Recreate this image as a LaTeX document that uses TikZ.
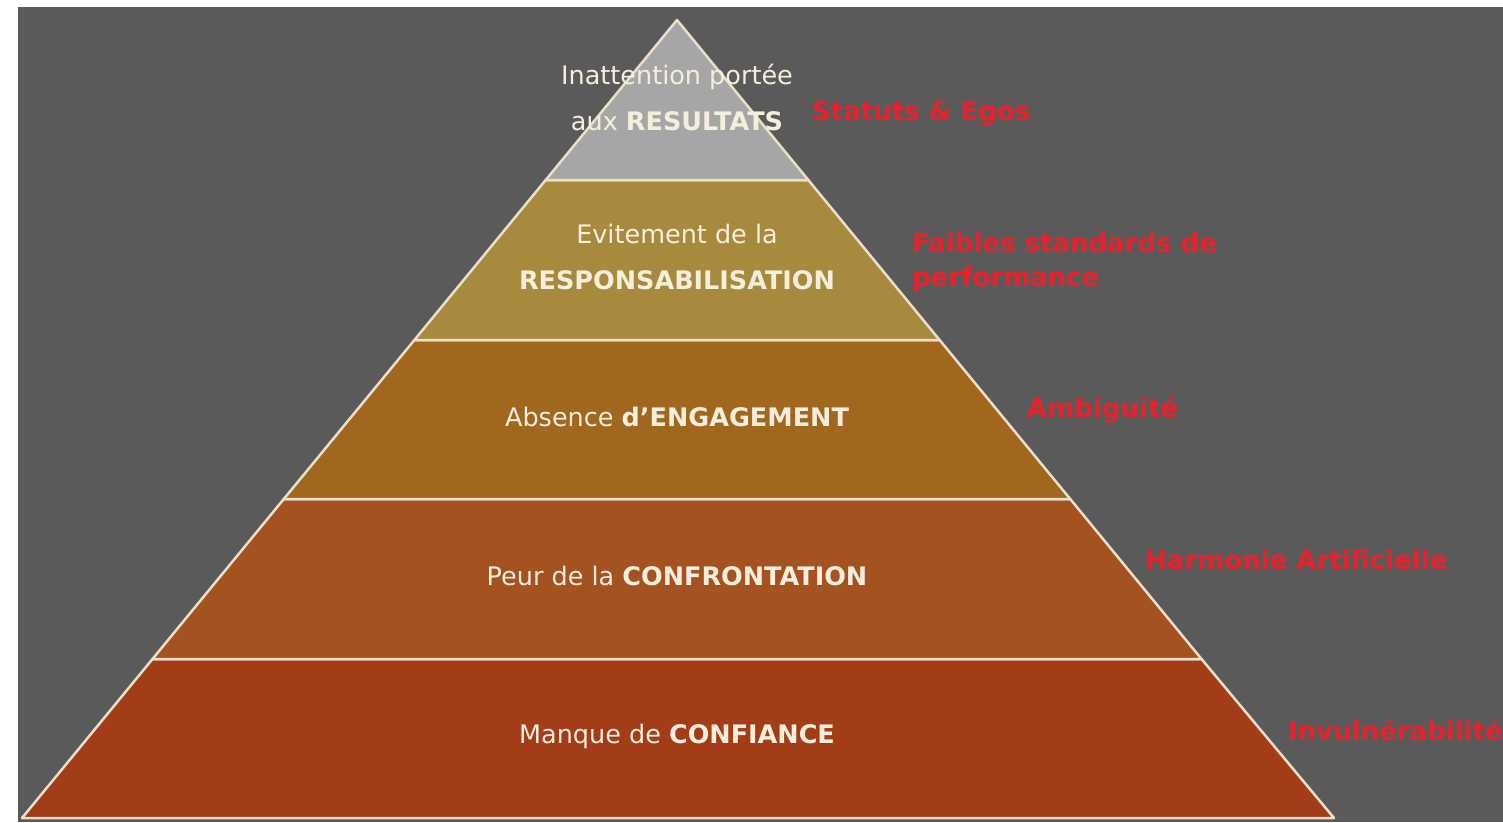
\documentclass[tikz,border=0pt]{standalone}
\usepackage{fontspec}
\setmainfont{DejaVu Sans}
\definecolor{bg}{HTML}{5A5A5A}
\definecolor{lay1}{HTML}{A6A6A6}
\definecolor{lay2}{HTML}{A88A3F}
\definecolor{lay3}{HTML}{A1671F}
\definecolor{lay4}{HTML}{A4521F}
\definecolor{lay5}{HTML}{A33D18}
\definecolor{sep}{HTML}{EADFC8}
\definecolor{txt}{HTML}{F6EEDD}
\definecolor{lbl}{HTML}{E8222C}
\tikzset{
  layer/.style={draw=sep, line width=2.5pt, line join=round},
  lvltext/.style={text=txt, align=center, font=\fontsize{25.5}{46}\selectfont, inner sep=0pt},
  redlbl/.style={text=lbl, anchor=west, align=left, font=\bfseries\fontsize{26}{34}\selectfont, inner sep=0pt}
}
\begin{document}
\begin{tikzpicture}[x=1pt,y=-1pt]
\useasboundingbox (0,0) rectangle (1503,822);
\fill[white] (0,0) rectangle (1503,822);
\fill[bg] (18,7) rectangle (1503,822);
% pyramid coordinates
\coordinate (A) at (677,20);
\coordinate (L1) at (545.7,180); \coordinate (R1) at (808.3,180);
\coordinate (L2) at (414.4,340); \coordinate (R2) at (939.6,340);
\coordinate (L3) at (283.8,499); \coordinate (R3) at (1070.2,499);
\coordinate (L4) at (152.5,659); \coordinate (R4) at (1201.5,659);
\coordinate (L5) at (22,818);    \coordinate (R5) at (1334,818);
\filldraw[layer, fill=lay5] (L4) -- (R4) -- (R5) -- (L5) -- cycle;
\filldraw[layer, fill=lay4] (L3) -- (R3) -- (R4) -- (L4) -- cycle;
\filldraw[layer, fill=lay3] (L2) -- (R2) -- (R3) -- (L3) -- cycle;
\filldraw[layer, fill=lay2] (L1) -- (R1) -- (R2) -- (L2) -- cycle;
\filldraw[layer, fill=lay1] (A) -- (R1) -- (L1) -- cycle;
% level texts
\node[lvltext] (t1) at (677,97) {Inattention portée\\aux \textbf{RESULTATS}};
\node[lvltext] (t2) at (677,257) {Evitement de la\\\textbf{RESPONSABILISATION}};
\node[lvltext] (t3) at (677,417) {Absence \textbf{d'ENGAGEMENT}};
\node[lvltext] (t4) at (677,576) {Peur de la \textbf{CONFRONTATION}};
\node[lvltext] (t5) at (677,736) {Manque de \textbf{CONFIANCE}};
% red labels
\node[redlbl] (r1) at (812,114) {Statuts \& Egos};
\node[redlbl] (r2) at (912,262) {Faibles standards de\\performance};
\node[redlbl] (r3) at (1027,410) {Ambiguïté};
\node[redlbl] (r4) at (1145,560) {Harmonie Artificielle};
\node[redlbl] (r5) at (1288,730) {Invulnérabilité};
\end{tikzpicture}
\end{document}
